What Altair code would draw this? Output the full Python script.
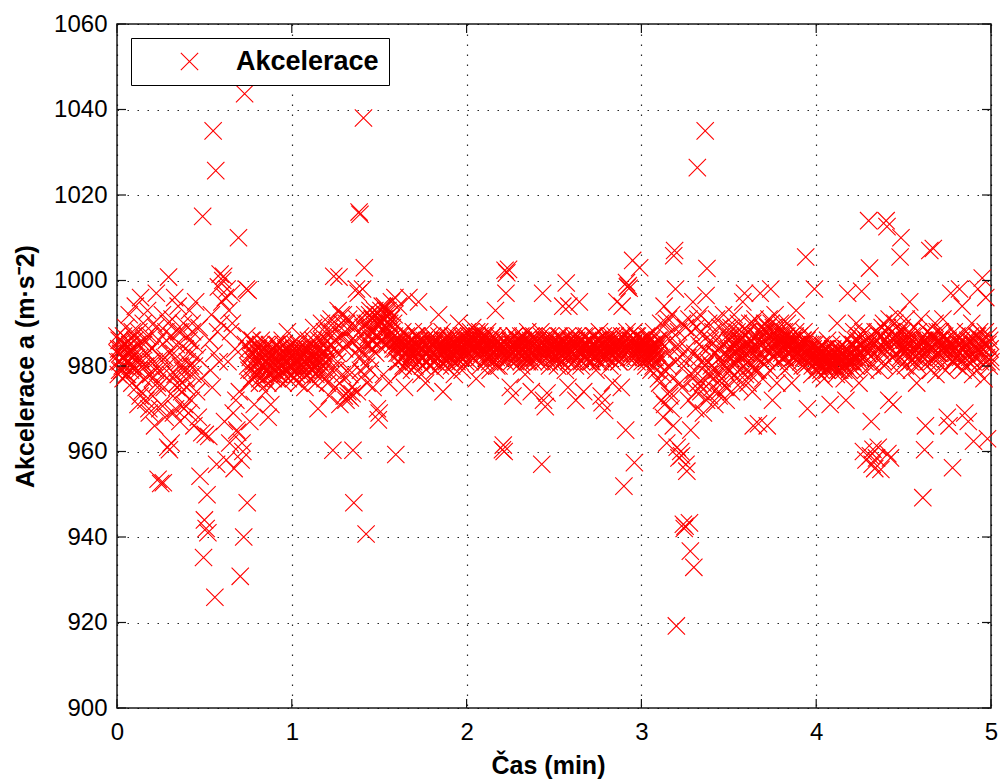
import altair as alt
import pandas as pd

# sampling of the recorded signal (minutes); two interleaved passes
sample_step_min = 0.005
pass_b_offset_min = 0.0025

# acceleration readings, pass A, minute by minute (20 values = 0.1 min per row)
accel_min0 = [
    987, 981, 984, 979, 983, 986, 980, 977, 982, 985, 989, 981, 978, 983, 992, 980, 984, 976, 982, 987,
    979, 994, 975, 985, 971, 988, 982, 996, 974, 980, 990, 977, 986, 972, 983, 993, 978, 969, 987, 981,
    984, 973, 990, 966, 979, 997, 976, 953.5, 986, 970, 952.5, 982, 992, 952.7, 975, 968, 988, 980, 961, 1000.8,
    960.4, 978, 962, 991, 973, 983, 996, 970, 985, 976, 994, 981, 967, 988, 974, 979, 990, 971, 984, 977,
    975, 987, 969, 993, 980, 972, 990, 978, 966, 985, 995, 974, 982, 968, 989, 954.2, 977, 964.4, 1015, 935.2,
    944, 964, 942, 949.9, 941, 963.5, 986, 979, 992, 975, 1035, 983, 925.9, 1025.7, 957, 988, 998.5, 981, 1001.5, 990,
    995, 1000, 1001, 967, 996, 958, 998, 981, 993, 962, 988, 997, 990, 969, 956, 984, 972, 965, 964.5, 1010,
    974, 930.8, 958, 962, 960, 940, 1043.7, 985, 998, 948, 997.7, 979, 967, 983, 977, 986, 980, 971, 984, 978,
    981, 978, 984, 976, 982, 986, 979, 983, 977, 980, 974, 985, 981, 968, 978, 983, 971, 980, 984, 977,
    982, 979, 985, 977, 981, 984, 978, 983, 980, 986, 976, 982, 979, 984, 981, 988, 977, 983, 980, 985,
]
accel_min1 = [
    980, 983, 977, 982, 985, 979, 981, 984, 976, 982, 987, 980, 978, 983, 981, 975, 984, 979, 982, 986,
    981, 977, 985, 983, 979, 989, 982, 976, 984, 980, 970, 986, 981, 978, 990, 983, 979, 985, 977, 982,
    984, 976, 988, 973, 982, 991, 979, 960.3, 1001, 986, 975, 989, 983, 993, 1000.8, 971, 987, 990, 978, 992,
    973, 988, 972, 985, 974, 991, 979, 972.5, 986, 973.5, 960.3, 948, 983, 989, 998, 974, 997, 1016, 1015.5, 982,
    987, 998, 1038, 1003, 990, 940.7, 976, 989, 985, 992, 979, 986, 991, 975, 988, 993, 983, 990, 970, 967.4,
    969, 990, 993, 986, 991, 978, 994, 988, 992, 985, 993, 976, 990, 987, 995, 989, 984, 992, 996, 959.3,
    985, 981, 994, 983, 986, 979, 984, 988, 982, 975, 985, 987, 980, 984, 996, 982, 986, 979, 983, 988,
    984, 980, 987, 983, 985, 995, 981, 986, 978, 984, 982, 988, 983, 976, 985, 981, 987, 984, 980, 986,
    983, 987, 981, 985, 979, 984, 986, 982, 992, 983, 980, 985, 988, 974, 984, 982, 986, 981, 984, 987,
    982, 985, 983, 980, 987, 984, 978, 986, 983, 981, 985, 990, 984, 982, 987, 979, 983, 986, 984, 981,
]
accel_min2 = [
    985, 988, 983, 986, 981, 987, 984, 989, 982, 986, 984, 977, 987, 985, 983, 988, 980, 986, 984, 987,
    983, 986, 981, 985, 988, 982, 984, 979, 986, 983, 987, 981, 985, 993, 982, 986, 984, 980, 985, 983,
    984, 960.4, 961.5, 960, 1002.4, 997, 1001.8, 982, 1002.6, 986, 975, 983, 985, 973, 984, 987, 981, 985, 983, 986,
    982, 985, 987, 980, 984, 986, 983, 978, 985, 982, 988, 984, 981, 986, 974, 983, 985, 987, 982, 984,
    985, 983, 986, 981, 984, 988, 957, 997, 972, 985, 970.5, 983, 973.7, 986, 984, 980, 987, 983, 985, 982,
    984, 986, 982, 985, 980, 987, 983, 985, 981, 986, 994, 983, 985, 979, 999.4, 984, 975, 994, 982, 986,
    983, 985, 987, 981, 984, 972, 986, 982, 985, 995, 983, 980, 986, 984, 974, 985, 982, 987, 983, 985,
    984, 986, 981, 985, 983, 987, 982, 985, 979, 984, 986, 983, 988, 981, 973, 971.4, 985, 983, 969.6, 986,
    982, 985, 987, 983, 980, 986, 984, 976, 985, 982, 987, 983, 995, 985, 981, 986, 983, 975, 994, 985,
    951.9, 987, 965, 999.5, 998.5, 998.8, 998.2, 984, 986, 982, 1004.7, 985, 957.4, 983, 987, 981, 985, 984, 1003, 986,
]
accel_min3 = [
    984, 981, 986, 983, 985, 980, 987, 982, 984, 986, 983, 979, 985, 982, 988, 984, 981, 985, 983, 986,
    982, 976, 990, 972, 985, 968, 994, 979, 987, 962, 983, 991, 974, 986, 970, 988, 977, 1005.8, 1007, 998,
    919.2, 961, 985, 958.5, 976, 960, 959, 990, 943, 942, 942.5, 957, 955.4, 982, 972, 943.3, 936.7, 988, 978, 995,
    932.9, 983, 970, 989, 1026.4, 976, 985, 992, 974, 981, 987, 969, 984, 1035, 996.5, 1002.8, 978, 990, 973, 986,
    980, 975, 988, 983, 971, 986, 991, 978, 984, 973, 989, 981, 976, 985, 992, 979, 983, 972, 987, 982,
    984, 979, 987, 974, 985, 983, 992, 981, 986, 977, 984, 990, 982, 975, 986, 983, 995, 980, 997, 978,
    983, 988, 976, 985, 990, 980, 986, 974, 966, 984, 991, 979, 987, 982, 966.5, 985, 997, 981, 989, 977,
    986, 990, 982, 988, 966, 984, 991, 979, 998, 987, 972, 989, 985, 992, 983, 976, 988, 986, 981, 990,
    985, 988, 982, 986, 979, 987, 984, 990, 981, 985, 983, 989, 976, 986, 984, 982, 987, 993, 983, 985,
    984, 987, 982, 985, 980, 986, 988, 983, 1005.5, 981, 970, 985, 984, 987, 982, 978, 985, 983, 998, 981,
]
accel_min4 = [
    982, 979, 984, 981, 983, 978, 985, 980, 982, 977, 984, 981, 979, 986, 982, 980, 971, 983, 981, 984,
    980, 983, 981, 978, 990, 982, 984, 979, 981, 985, 983, 980, 977, 982, 972, 984, 997, 981, 983, 980,
    982, 985, 981, 988, 979, 984, 990, 983, 986, 976, 985, 982, 997.5, 987, 960, 984, 981, 958, 986, 983,
    1014, 1002.9, 959, 967, 957, 960.5, 985, 956, 982, 958.5, 988, 961, 979, 984, 955.8, 987, 983, 990, 980, 986,
    1014, 1012.6, 959.5, 972, 984, 958.5, 988, 982, 971, 986, 990, 983, 979, 987, 985, 981, 1005.5, 1010, 984, 988,
    983, 986, 980, 991, 984, 987, 982, 995, 985, 979, 986, 983, 989, 981, 985, 976, 984, 988, 982, 986,
    991, 984, 949.2, 986, 960.4, 966, 983, 988, 981, 985, 1007, 979, 987, 982, 1007.5, 984, 990, 978, 985, 983,
    986, 982, 988, 980, 985, 991, 983, 987, 979, 984, 968, 986, 966, 983, 997, 985, 956.2, 981, 988, 984,
    983, 987, 980, 985, 998, 982, 986, 994, 979, 984, 969, 988, 983, 985, 967, 981, 986, 983, 990, 978,
    962.4, 985, 982, 987, 979, 998, 984, 988, 981, 986, 1000.6, 983, 977, 985, 996, 982, 963, 987, 980, 984,
]
accel_end = [981]

# acceleration readings, pass B (interleaved half a step later; None = no reading)
accel_min0_b = [
    983, 978, 986, 981, 984, 979, 982, 987, 980, 984, 978, 983, 986, 981, 985, 979, 983, 988, 980, 984,
    986, None, 982, None, 979, None, 973, None, 981, None, 985, None, 980, None, 987, None, 970, None, 978, None,
    977, None, 981, None, 989, None, 975, None, 979, None, 971, None, 978, None, 982, None, 986, None, 990, None,
    983, None, 987, None, 969, None, 978, None, 975, None, 988, None, 980, None, 976, None, 970, None, 979, None,
    981, None, 986, None, 983, None, 988, None, 980, None, None, None, None, None, None, None, None, None, None, None,
    None, None, None, None, None, None, None, None, None, None, None, None, None, None, None, None, None, None, None, None,
    None, None, None, None, None, None, None, None, None, None, None, None, None, None, None, None, None, None, None, None,
    None, None, None, None, None, None, None, None, 987, 980, 984, 976, 982, 986, 979, 983, 981, 985, 978, 982,
    979, 983, 981, 977, 985, 980, 982, 978, 984, 981, 979, 983, 976, 982, 985, 980, 978, 983, 981, 979,
    983, 980, 982, 985, 978, 981, 984, 979, 982, 980, 985, 978, 983, 981, 979, 984, 982, 980, 983, 978,
]
accel_min1_b = [
    982, 979, 984, 980, 983, 978, 981, 985, 980, 983, 979, 982, 984, 980, 983, 981, 978, 984, 980, 983,
    980, 984, 979, 982, 986, 980, 983, 978, 982, 985, 981, 979, 984, 982, 986, 980, 983, 988, 981, 984,
    986, None, 990, None, 985, None, 988, None, 984, None, 979, None, 981, None, 976, None, 992, None, 987, None,
    984, None, 990, None, 973, None, 978, None, 975, None, 989, None, 986, None, 991, None, 984, None, 979, None,
    983, 989, 978, 992, 985, 980, 990, 987, 982, 993, 988, 984, 991, 986, 989, 992, 987, 990, 985, 991,
    992, 986, 990, 994, 988, 991, 985, 993, 989, 990, 987, 992, 986, 991, 988, 985, 990, 987, 984, 986,
    983, 986, 981, 984, 987, 982, 985, 980, 984, 986, 983, 985, 981, 987, 984, 982, 985, 983, 986, 981,
    985, 982, 984, 987, 981, 983, 986, 982, 985, 980, 984, 986, 983, 981, 985, 983, 986, 982, 984, 985,
    982, 985, 983, 986, 981, 984, 982, 985, 987, 983, 981, 984, 986, 983, 985, 980, 984, 983, 986, 982,
    984, 982, 986, 983, 985, 981, 984, 987, 982, 985, 983, 986, 981, 984, 982, 985, 983, 987, 982, 985,
]
accel_min2_b = [
    986, 983, 987, 985, 988, 982, 986, 984, 987, 985, 983, 988, 984, 986, 982, 987, 985, 983, 986, 984,
    984, 987, 982, 985, 983, 986, 981, 985, 984, 987, 982, 986, 983, 985, 980, 984, 987, 982, 985, 983,
    985, 982, 986, 984, 981, 985, 983, 987, 982, 984, 986, 981, 985, 983, 987, 982, 984, 986, 983, 985,
    983, 986, 981, 984, 987, 982, 985, 983, 986, 981, 984, 985, 982, 987, 983, 985, 981, 986, 984, 982,
    984, 986, 982, 985, 983, 987, 981, 984, 986, 983, 985, 982, 987, 984, 981, 985, 983, 986, 982, 984,
    983, 985, 981, 986, 984, 982, 987, 983, 985, 981, 984, 986, 982, 985, 983, 987, 981, 984, 986, 983,
    985, 982, 986, 983, 980, 985, 987, 982, 984, 986, 983, 981, 985, 984, 987, 982, 985, 983, 986, 981,
    983, 986, 984, 981, 985, 983, 987, 982, 984, 986, 981, 985, 983, 986, 982, 984, 987, 983, 985, 982,
    984, 986, 982, 985, 983, 987, 981, 984, 986, 983, 985, 982, 986, 984, 981, 985, 983, 987, 982, 985,
    983, 986, 984, 988, 985, 982, 987, 984, 986, 983, 985, 988, 982, 986, 984, 987, 983, 985, 982, 986,
]
accel_min3_b = [
    983, 985, 982, 986, 984, 981, 985, 983, 987, 982, 984, 986, 983, 980, 985, 982, 984, 979, 983, 977,
    986, None, 982, None, 978, None, 971, None, 990, None, 980, None, 973, None, 992, None, 966, None, 981, None,
    984, None, 988, None, 982, None, 975, None, 980, None, 989, None, 984, None, 991, None, 965, None, 977, None,
    979, None, 974, None, 991, None, 982, None, 988, None, 976, None, 980, None, 972, None, 981, None, 978, None,
    985, None, 977, None, 983, None, 979, None, 974, None, 982, None, 977, None, 980, None, 975, None, 989, None,
    986, 982, 989, 980, 984, 987, 978, 985, 983, 988, 981, 986, 979, 984, 988, 982, 985, 980, 987, 983,
    985, 981, 988, 983, 978, 986, 984, 990, 980, 985, 982, 987, 984, 979, 986, 983, 988, 981, 985, 987,
    984, 988, 986, 981, 989, 985, 983, 987, 990, 984, 986, 982, 988, 985, 987, 983, 986, 989, 984, 986,
    983, 986, 984, 988, 982, 985, 987, 983, 986, 980, 984, 987, 985, 982, 986, 984, 988, 983, 985, 982,
    983, 985, 981, 984, 986, 982, 985, 980, 983, 986, 982, 984, 981, 985, 983, 980, 984, 982, 985, 981,
]
accel_min4_b = [
    981, 983, 980, 982, 984, 979, 982, 981, 983, 980, 982, 984, 979, 981, 983, 980, 982, 985, 980, 982,
    982, 980, 983, 981, 979, 984, 982, 980, 983, 981, 984, 979, 982, 980, 983, 986, 981, 979, 983, 981,
    983, 981, 985, 982, 986, 980, 984, 982, 987, 983, 981, 985, 983, 988, 982, 984, 979, 986, 983, 985,
    984, 987, None, 986, 980, None, 983, 988, None, 986, 984, None, 987, 985, None, 989, 981, None, 984, 988,
    985, 989, None, 991, 986, None, 988, 982, None, 985, 987, None, 986, 992, None, 988, 982, None, 989, 984,
    984, 987, None, 986, 985, None, 988, 981, None, 987, 983, None, 984, 982, None, 985, 980, None, 983, 985,
    985, 982, None, 983, 986, None, 985, 988, None, 984, 986, None, 981, 987, None, 986, 982, None, 988, 983,
    983, 986, None, 985, 987, None, 984, 986, None, 985, 983, None, 982, 984, None, 981, 985, None, 986, 982,
    984, 986, None, 985, 983, None, 981, 984, None, 982, 985, None, 980, 986, None, 982, 987, None, 985, 981,
    983, 986, None, 984, 987, None, 985, 983, None, 986, 984, None, 985, 988, None, 981, 985, None, 986, 982,
]

x_ticks = [0, 1, 2, 3, 4, 5]
y_ticks = [900, 920, 940, 960, 980, 1000, 1020, 1040, 1060]
series_name = "Akcelerace"

pass_a = accel_min0 + accel_min1 + accel_min2 + accel_min3 + accel_min4 + accel_end
pass_b = accel_min0_b + accel_min1_b + accel_min2_b + accel_min3_b + accel_min4_b
t_a = [round(i * sample_step_min, 4) for i in range(len(pass_a))]
t_b = [round(pass_b_offset_min + i * sample_step_min, 4) for i in range(len(pass_b))]
df = pd.DataFrame({"t": t_a + t_b, "a": pass_a + pass_b, "series": series_name})
df = df.dropna().sort_values("t").reset_index(drop=True)
xt = pd.DataFrame({"t": x_ticks})
yt = pd.DataFrame({"a": y_ticks})

W, H = 874, 684
TL = 9
X_PATH = "M-1,-1L1,1M-1,1L1,-1"
FONT = "Liberation Sans"

xscale = alt.Scale(domain=[0, 5], nice=False, zero=False)
yscale = alt.Scale(domain=[900, 1060], nice=False, zero=False)
x_axis = alt.Axis(values=x_ticks, title="Čas (min)", labelPadding=12, labelFlush=False,
                  titleX=431, titleY=65, titleBaseline="alphabetic", format="d")
y_axis = alt.Axis(values=y_ticks, title="Akcelerace a (m·s⁻2)", labelPadding=10, labelFlush=False,
                  titleX=-84, titleY=H / 2, titleBaseline="alphabetic", format="d")

points = alt.Chart(df).mark_point(
    shape=X_PATH, filled=False, size=300, strokeWidth=1.1, opacity=1
).encode(
    x=alt.X("t:Q", scale=xscale, axis=x_axis),
    y=alt.Y("a:Q", scale=yscale, axis=y_axis),
    color=alt.Color("series:N", scale=alt.Scale(range=["#ff0000"]),
                    legend=alt.Legend(title=None, orient="none", legendX=14, legendY=14,
                                      padding=10, strokeColor="black", fillColor="white",
                                      symbolType=X_PATH, symbolSize=300, symbolStrokeWidth=1.1,
                                      symbolOffset=35, labelOffset=33, labelFont=FONT,
                                      labelFontSize=27, labelFontWeight="bold",
                                      labelColor="black", cornerRadius=0)),
)

tick_style = dict(color="#111111", strokeWidth=1.2)
xt_bottom = alt.Chart(xt).mark_rule(**tick_style).encode(
    x=alt.X("t:Q", scale=xscale, axis=x_axis), y=alt.value(H), y2=alt.value(H - TL))
xt_top = alt.Chart(xt).mark_rule(**tick_style).encode(
    x=alt.X("t:Q", scale=xscale, axis=x_axis), y=alt.value(0), y2=alt.value(TL))
yt_left = alt.Chart(yt).mark_rule(**tick_style).encode(
    y=alt.Y("a:Q", scale=yscale, axis=y_axis), x=alt.value(0), x2=alt.value(TL))
yt_right = alt.Chart(yt).mark_rule(**tick_style).encode(
    y=alt.Y("a:Q", scale=yscale, axis=y_axis), x=alt.value(W - TL), x2=alt.value(W))

chart = alt.layer(points, xt_bottom, xt_top, yt_left, yt_right).properties(
    width=W, height=H,
    padding={"left": 117, "top": 24, "right": 10, "bottom": 74},
    autosize=alt.AutoSizeParams(type="none"),
    background="white",
).configure_view(
    stroke="#1a1a1a", strokeWidth=1.5
).configure_axis(
    labelFont=FONT, labelFontSize=24, labelColor="black",
    titleFont=FONT, titleFontSize=25, titleFontWeight="bold", titleColor="black",
    grid=True, gridColor="black", gridDash=[1.5, 8.5], gridWidth=1.2, gridOpacity=0.85,
    domain=False, ticks=False,
)

chart.save("out.html", embed_options={"renderer": "svg", "actions": False})
